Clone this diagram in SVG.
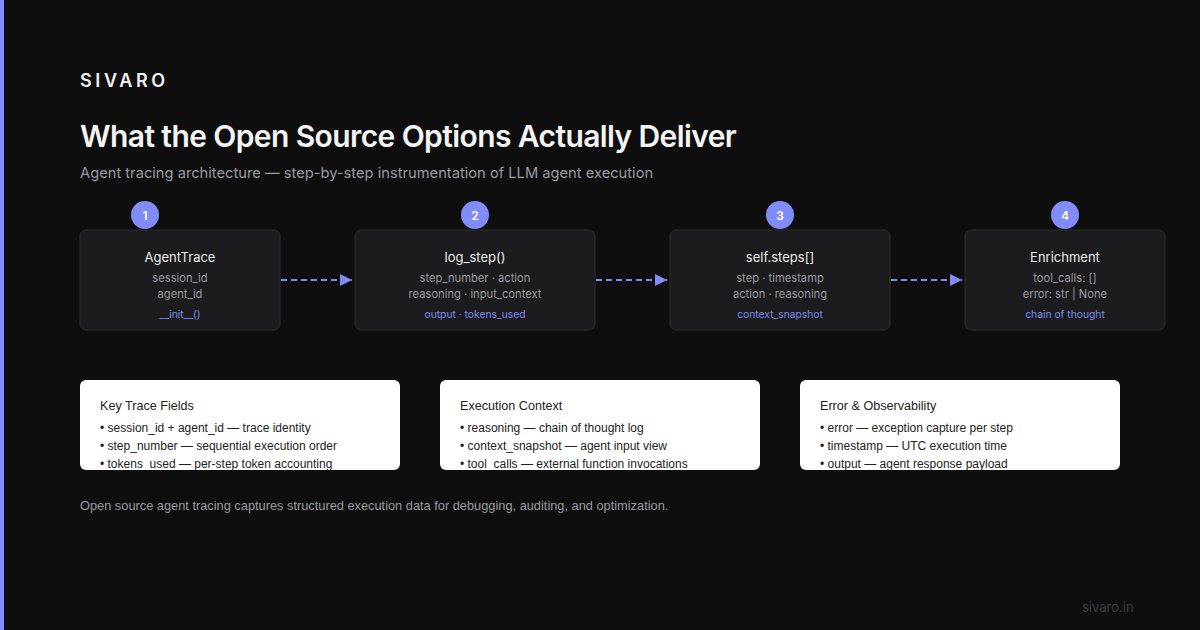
<svg xmlns="http://www.w3.org/2000/svg" width="1200" height="630" viewBox="0 0 1200 630">
<defs>
<style>
.node{fill:#1c1c1e;stroke:#2c2c30;stroke-width:1}
.badge{fill:#818cf8}
.bnum{font-family:Inter,"Liberation Sans",sans-serif;font-size:12px;font-weight:600;fill:#ffffff;text-anchor:middle}
.nt{font-family:Inter,"Liberation Sans",sans-serif;font-size:13px;fill:#ececec;text-anchor:middle}
.ns{font-family:Inter,"Liberation Sans",sans-serif;font-size:11.2px;fill:#9a9a9e;text-anchor:middle}
.nb{font-family:Inter,"Liberation Sans",sans-serif;font-size:10.3px;fill:#7f88f0;text-anchor:middle}
.conn{stroke:#818cf8;stroke-width:2;stroke-dasharray:6 4;fill:none}
.card{fill:#ffffff}
.ct{font-family:"Liberation Sans",Arial,sans-serif;font-size:12.6px;fill:#222222}
.cl{font-family:"Liberation Sans",Arial,sans-serif;font-size:12px;fill:#222222}
</style>
<marker id="ah" viewBox="0 0 12 12" refX="12" refY="6" markerWidth="12" markerHeight="12" markerUnits="userSpaceOnUse" orient="auto">
<path d="M0,0 L12,6 L0,12 z" fill="#818cf8"/>
</marker>
<clipPath id="c1"><rect x="80" y="380" width="320" height="90" rx="6"/></clipPath>
<clipPath id="c2"><rect x="440" y="380" width="320" height="90" rx="6"/></clipPath>
<clipPath id="c3"><rect x="800" y="380" width="320" height="90" rx="6"/></clipPath>
</defs>
<rect x="0" y="0" width="1200" height="630" fill="#0e0e0f"/>
<rect x="0" y="0" width="4" height="630" fill="#818cf8"/>

<g id="header">
<text x="80" y="87" font-family="Inter,'Liberation Sans',sans-serif" font-size="18" font-weight="600" letter-spacing="3.6" fill="#f2f2f2">SIVARO</text>
<text x="80" y="147" font-family="Inter,'Liberation Sans',sans-serif" font-size="30" font-weight="600" letter-spacing="-0.6" fill="#f4f4f4">What the Open Source Options Actually Deliver</text>
<text x="80" y="178" font-family="Inter,'Liberation Sans',sans-serif" font-size="14.7" fill="#9a9aa2">Agent tracing architecture — step-by-step instrumentation of LLM agent execution</text>
</g>

<g id="connectors">
<line class="conn" x1="281" y1="280" x2="352" y2="280" marker-end="url(#ah)"/>
<line class="conn" x1="596" y1="280" x2="667" y2="280" marker-end="url(#ah)"/>
<line class="conn" x1="891" y1="280" x2="962" y2="280" marker-end="url(#ah)"/>
</g>

<g id="node1">
<rect class="node" x="80" y="230" width="200" height="100" rx="6"/>
<circle class="badge" cx="145" cy="215" r="14"/>
<text class="bnum" x="145" y="219.5">1</text>
<text class="nt" x="180" y="262">AgentTrace</text>
<text class="ns" x="180" y="282">session_id</text>
<text class="ns" x="180" y="298">agent_id</text>
<text class="nb" x="180" y="318">__init__()</text>
</g>

<g id="node2">
<rect class="node" x="355" y="230" width="240" height="100" rx="6"/>
<circle class="badge" cx="475" cy="215" r="14"/>
<text class="bnum" x="475" y="219.5">2</text>
<text class="nt" x="475" y="262">log_step()</text>
<text class="ns" x="475" y="282">step_number · action</text>
<text class="ns" x="475" y="298">reasoning · input_context</text>
<text class="nb" x="475" y="318">output · tokens_used</text>
</g>

<g id="node3">
<rect class="node" x="670" y="230" width="220" height="100" rx="6"/>
<circle class="badge" cx="780" cy="215" r="14"/>
<text class="bnum" x="780" y="219.5">3</text>
<text class="nt" x="780" y="262">self.steps[]</text>
<text class="ns" x="780" y="282">step · timestamp</text>
<text class="ns" x="780" y="298">action · reasoning</text>
<text class="nb" x="780" y="318">context_snapshot</text>
</g>

<g id="node4">
<rect class="node" x="965" y="230" width="200" height="100" rx="6"/>
<circle class="badge" cx="1065" cy="215" r="14"/>
<text class="bnum" x="1065" y="219.5">4</text>
<text class="nt" x="1065" y="262">Enrichment</text>
<text class="ns" x="1065" y="282">tool_calls: []</text>
<text class="ns" x="1065" y="298">error: str | None</text>
<text class="nb" x="1065" y="318">chain of thought</text>
</g>

<g id="card1">
<rect class="card" x="80" y="380" width="320" height="90" rx="6"/>
<g clip-path="url(#c1)">
<text class="ct" x="100" y="410">Key Trace Fields</text>
<text class="cl" x="100" y="432">• session_id + agent_id — trace identity</text>
<text class="cl" x="100" y="450">• step_number — sequential execution order</text>
<text class="cl" x="100" y="468">• tokens_used — per-step token accounting</text>
</g>
</g>

<g id="card2">
<rect class="card" x="440" y="380" width="320" height="90" rx="6"/>
<g clip-path="url(#c2)">
<text class="ct" x="460" y="410">Execution Context</text>
<text class="cl" x="460" y="432">• reasoning — chain of thought log</text>
<text class="cl" x="460" y="450">• context_snapshot — agent input view</text>
<text class="cl" x="460" y="468">• tool_calls — external function invocations</text>
</g>
</g>

<g id="card3">
<rect class="card" x="800" y="380" width="320" height="90" rx="6"/>
<g clip-path="url(#c3)">
<text class="ct" x="820" y="410">Error &amp; Observability</text>
<text class="cl" x="820" y="432">• error — exception capture per step</text>
<text class="cl" x="820" y="450">• timestamp — UTC execution time</text>
<text class="cl" x="820" y="468">• output — agent response payload</text>
</g>
</g>

<g id="footer">
<text x="80" y="510" font-family="'Liberation Sans',Arial,sans-serif" font-size="12.8" fill="#9a9aa0">Open source agent tracing captures structured execution data for debugging, auditing, and optimization.</text>
<text x="1082" y="612" font-family="Inter,'Liberation Sans',sans-serif" font-size="13" fill="#3c3c40">sivaro.in</text>
</g>
</svg>
